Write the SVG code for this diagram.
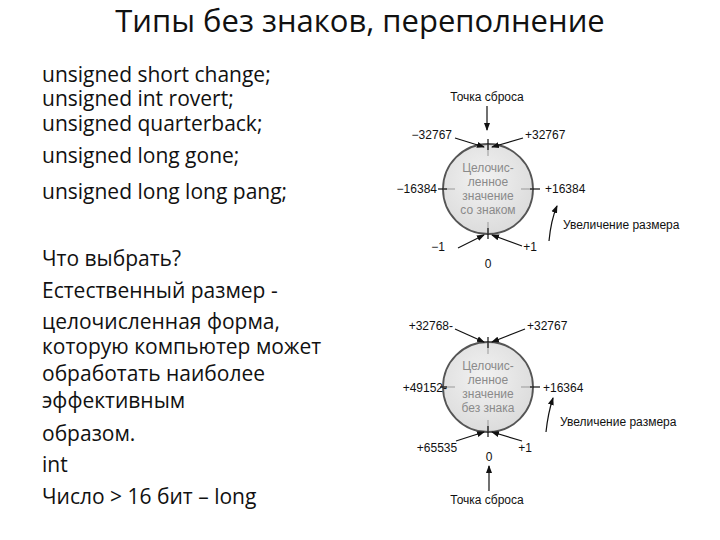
<svg xmlns="http://www.w3.org/2000/svg" width="720" height="540" viewBox="0 0 720 540">
<defs>
<marker id="ah" markerWidth="8" markerHeight="8" refX="7" refY="4" orient="auto" markerUnits="userSpaceOnUse"><path d="M0,1 L8,4 L0,7 Z" fill="#111"/></marker>
<radialGradient id="cg" cx="0.45" cy="0.4" r="0.6"><stop offset="0" stop-color="#f2f2f2"/><stop offset="1" stop-color="#dcdcdc"/></radialGradient>
</defs>
<style>
.t{font-family:"Open Sans","Liberation Sans",sans-serif;fill:#111}
.title{font-size:31px}
.b{font-size:21px}
.s{font-family:"Liberation Sans",Arial,sans-serif;font-size:12px;fill:#111}
.in{font-family:"Liberation Sans",Arial,sans-serif;font-size:12px;fill:#8a8a8a;text-anchor:middle}
.c{fill:url(#cg);stroke:#555;stroke-width:1.8}
.l{stroke:#111;stroke-width:1.2;fill:none}
.a{stroke:#111;stroke-width:1.2;fill:none;marker-end:url(#ah)}
.k{stroke:#999;stroke-width:1}
</style>
<rect width="720" height="540" fill="#fff"/>
<g id="title"><text class="t title" x="360" y="32" text-anchor="middle">Типы без знаков, переполнение</text></g>
<g id="text">
<text class="t b" x="42" y="82">unsigned short change;</text>
<text class="t b" x="42" y="106">unsigned int rovert;</text>
<text class="t b" x="42" y="131">unsigned quarterback;</text>
<text class="t b" x="42" y="163">unsigned long gone;</text>
<text class="t b" x="42" y="199">unsigned long long pang;</text>
<text class="t b" x="42" y="266">Что выбрать?</text>
<text class="t b" x="42" y="298">Естественный размер -</text>
<text class="t b" x="42" y="329">целочисленная форма,</text>
<text class="t b" x="42" y="354">которую компьютер может</text>
<text class="t b" x="42" y="381">обработать наиболее</text>
<text class="t b" x="42" y="408">эффективным</text>
<text class="t b" x="42" y="441">образом.</text>
<text class="t b" x="42" y="472">int</text>
<text class="t b" x="42" y="504">Число &gt; 16 бит – long</text>
</g>
<g id="signed">
<circle class="c" cx="488" cy="189" r="45"/>
<line class="k" x1="488" y1="144" x2="488" y2="156"/><line class="k" x1="488" y1="222" x2="488" y2="234"/>
<line class="k" x1="443" y1="189" x2="455" y2="189"/><line class="k" x1="521" y1="189" x2="533" y2="189"/>
<line class="l" x1="488" y1="139" x2="488" y2="150"/><line class="l" x1="488" y1="228" x2="488" y2="239"/>
<line class="l" x1="438" y1="189" x2="447" y2="189"/><line class="l" x1="530" y1="189" x2="540" y2="189"/>
<text class="in" x="488" y="172">Целочис-</text><text class="in" x="488" y="186">ленное</text><text class="in" x="488" y="200">значение</text><text class="in" x="488" y="214">со знаком</text>
<text class="s" x="487" y="101" text-anchor="middle">Точка сброса</text>
<text class="s" x="452" y="139" text-anchor="end">−32767</text>
<text class="s" x="525" y="139">+32767</text>
<text class="s" x="437" y="193" text-anchor="end">−16384</text>
<text class="s" x="545" y="193">+16384</text>
<text class="s" x="563" y="229">Увеличение размера</text>
<text class="s" x="438" y="251" text-anchor="middle">−1</text>
<text class="s" x="530" y="251" text-anchor="middle">+1</text>
<text class="s" x="488" y="268" text-anchor="middle">0</text>
</g>
<g id="unsigned">
<circle class="c" cx="488" cy="387" r="45"/>
<line class="k" x1="488" y1="342" x2="488" y2="354"/><line class="k" x1="488" y1="420" x2="488" y2="432"/>
<line class="k" x1="443" y1="387" x2="455" y2="387"/><line class="k" x1="521" y1="387" x2="533" y2="387"/>
<line class="l" x1="488" y1="337" x2="488" y2="348"/><line class="l" x1="488" y1="426" x2="488" y2="437"/>
<line class="l" x1="440" y1="387" x2="447" y2="387"/><line class="l" x1="530" y1="387" x2="540" y2="387"/>
<text class="in" x="488" y="370">Целочис-</text><text class="in" x="488" y="384">ленное</text><text class="in" x="488" y="398">значение</text><text class="in" x="488" y="412">без знака</text>
<text class="s" x="453" y="330" text-anchor="end">+32768-</text>
<text class="s" x="527" y="330">+32767</text>
<text class="s" x="447" y="392" text-anchor="end">+49152-</text>
<text class="s" x="543" y="392">+16364</text>
<text class="s" x="560" y="426">Увеличение размера</text>
<text class="s" x="437" y="452" text-anchor="middle">+65535</text>
<text class="s" x="525" y="452" text-anchor="middle">+1</text>
<text class="s" x="489" y="461" text-anchor="middle">0</text>
<text class="s" x="487" y="504" text-anchor="middle">Точка сброса</text>
</g>
<g id="connectors">
<line class="a" x1="487" y1="106" x2="487" y2="130"/>
<line class="a" x1="455" y1="138" x2="484" y2="147"/>
<line class="a" x1="523" y1="138" x2="492" y2="147"/>
<path class="a" d="M549,241 Q551,220 557,206"/>
<line class="a" x1="458" y1="248" x2="484" y2="235"/>
<line class="a" x1="522" y1="246" x2="492" y2="235"/>
<line class="a" x1="455" y1="329" x2="484" y2="342"/>
<line class="a" x1="525" y1="329" x2="492" y2="342"/>
<path class="a" d="M546,432 Q548,413 553,398"/>
<line class="a" x1="456" y1="441" x2="484" y2="432"/>
<line class="a" x1="522" y1="441" x2="492" y2="432"/>
<line class="a" x1="489" y1="491" x2="489" y2="466"/>
</g>
</svg>
